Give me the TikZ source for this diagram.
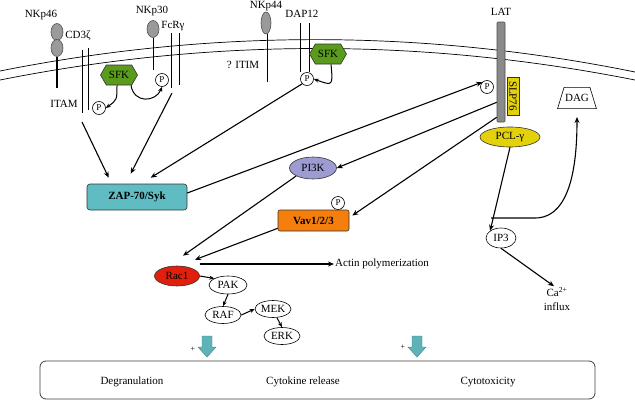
\documentclass[tikz,border=0pt]{standalone}
\usepackage{fontspec}
\setmainfont{Liberation Serif}
\usetikzlibrary{arrows.meta,shapes.geometric,shapes.symbols,calc}
\definecolor{recgrey}{HTML}{9A9A9A}
\definecolor{latgrey}{HTML}{8A8A8A}
\definecolor{sfkgreen}{HTML}{5A9B1E}
\definecolor{zapteal}{HTML}{5FBCC2}
\definecolor{lavender}{HTML}{9C9CD2}
\definecolor{vavorange}{HTML}{F57E0C}
\definecolor{racred}{HTML}{E0200C}
\definecolor{pclyellow}{HTML}{E3D10B}
\definecolor{tealarr}{HTML}{5EB3B8}
\begin{document}
\begin{tikzpicture}[x=1pt,y=-1pt,
  every node/.style={font=\fontsize{11}{12}\selectfont, inner sep=1pt},
  arr/.style={line width=1.1pt, -{Stealth[length=6pt,width=5pt]}},
  arrs/.style={line width=1pt, -{Stealth[length=5pt,width=4pt]}},
  memb/.style={line width=0.7pt},
  recline/.style={line width=0.7pt},
  pcirc/.style={circle, draw, line width=0.6pt, fill=white, minimum size=13pt, inner sep=0pt, font=\fontsize{9}{10}\selectfont},
  oval/.style={ellipse, draw, line width=0.6pt, fill=white, inner sep=0pt},
  greyoval/.style={ellipse, draw=black!70, line width=0.6pt, fill=recgrey, inner sep=0pt},
  sfkbox/.style={signal, signal to=west and east, signal pointer angle=120, draw=black!80, line width=0.6pt, fill=sfkgreen, minimum width=37pt, minimum height=20pt, inner sep=0pt},
  colbox/.style={draw=black!80, line width=0.6pt, inner sep=0pt},
  plus/.style={font=\fontsize{8}{9}\selectfont}
]
\useasboundingbox (0,0) rectangle (635,402);

% membrane
\draw[memb] (0,71) .. controls (211,29) and (423,29) .. (635,72);
\draw[memb] (0,80) .. controls (211,38) and (423,38) .. (635,80);

% NKp46
\node (nkp46) at (41,15) {NKp46};
\node[greyoval, minimum width=12pt, minimum height=17pt] (n46a) at (57,32) {};
\node[greyoval, minimum width=12pt, minimum height=17pt] (n46b) at (57,48) {};
\coordinate (n46end) at (57,88);
\draw[line width=2.2pt] (n46b.south) -- (n46end);

% CD3zeta
\node (cd3) at (78,36) {CD3ζ};
\coordinate (cd3a1) at (82,50); \coordinate (cd3a2) at (82,113);
\coordinate (cd3b1) at (88,48); \coordinate (cd3b2) at (88,110);
\draw[recline] (cd3a1) -- (cd3a2);
\draw[recline] (cd3b1) -- (cd3b2);
\node (itam) at (64,104) {ITAM};
\coordinate (cd3arr) at (82,122);

% SFK 1
\node[sfkbox] (sfk1) at (119,75) {SFK};
\node[pcirc] (p1) at (99,108) {P};

% NKp30
\node (nkp30) at (152,11) {NKp30};
\node[greyoval, minimum width=12pt, minimum height=17pt] (n30) at (153,29) {};
\coordinate (n30end) at (153,70);
\draw[recline] (n30.south) -- (n30end);
\node[pcirc] (p2) at (162,80) {P};

% FcRgamma
\node (fcr) at (173,26) {FcRγ};
\coordinate (fcra1) at (171,33); \coordinate (fcra2) at (171,88);
\coordinate (fcrb1) at (179,33); \coordinate (fcrb2) at (179,85);
\draw[recline] (fcra1) -- (fcra2);
\draw[recline] (fcrb1) -- (fcrb2);
\coordinate (fcrarr) at (172,93);

\draw[arrs] ([xshift=-2pt]sfk1.south) .. controls (117,100) .. (p1.east);
\draw[arrs] ([xshift=12pt]sfk1.south) .. controls (134,104) and (156,102) .. (p2.south);

% NKp44
\node (nkp44) at (266,6) {NKp44};
\node[greyoval, minimum width=10pt, minimum height=22pt] (n44) at (266,23) {};
\coordinate (n44end) at (267,82);
\draw[recline] ([xshift=1pt]n44.south) -- (n44end);
\node (itim) at (243,65) {? ITIM};

% DAP12
\node (dap12) at (302,14) {DAP12};
\coordinate (dapa1) at (300,23); \coordinate (dapa2) at (300,72);
\coordinate (dapb1) at (309,23); \coordinate (dapb2) at (309,72);
\draw[recline] (dapa1) -- (dapa2);
\draw[recline] (dapb1) -- (dapb2);
\node[pcirc] (p3) at (307,79) {P};
\node[sfkbox] (sfk2) at (328,54) {SFK};
\draw[arrs] ([xshift=3pt]sfk2.south) .. controls (333,86) .. (p3.east);

% LAT
\node (latl) at (501,12) {LAT};
\node[draw=black!70, line width=0.6pt, fill=latgrey, rounded corners=1pt, minimum width=8pt, minimum height=100pt, inner sep=0pt] (lat) at (501,72) {};
\node[pcirc] (p4) at (487,87) {P};
\node[colbox, fill=pclyellow, rotate=-90, minimum width=38pt, minimum height=12pt] (slp) at (513,96) {SLP76};
\node[ellipse, colbox, fill=pclyellow, minimum width=60pt, minimum height=20pt] (pcl) at (510,137) {PCL-γ};
\node[trapezium, trapezium left angle=73, trapezium right angle=73, draw, line width=0.6pt, inner xsep=1pt, inner ysep=7pt] (dag) at (577,98) {DAG};

% ZAP-70
\node[colbox, fill=zapteal, rounded corners=3pt, minimum width=100pt, minimum height=26pt, font=\fontsize{11}{12}\selectfont\bfseries] (zap) at (137,197) {ZAP-70/Syk};

% PI3K, Vav
\node[ellipse, colbox, fill=lavender, minimum width=47pt, minimum height=22pt] (pi3k) at (313,168) {PI3K};
\node[colbox, fill=vavorange, rounded corners=2pt, minimum width=71pt, minimum height=21pt, font=\fontsize{11}{12}\selectfont\bfseries] (vav) at (313.5,220.5) {Vav1/2/3};
\node[pcirc] (p5) at (338,203) {P};

% Rac1 and MAPK
\node[ellipse, colbox, fill=racred, minimum width=45pt, minimum height=20pt] (rac) at (177,276) {Rac1};
\node[anchor=west] (actin) at (334,264) {Actin polymerization};
\node[oval, minimum width=38pt, minimum height=18pt] (pak) at (228,285) {PAK};
\node[oval, minimum width=36pt, minimum height=17pt] (raf) at (223,315) {RAF};
\node[oval, minimum width=36pt, minimum height=17pt] (mek) at (273,309) {MEK};
\node[oval, minimum width=36pt, minimum height=17pt] (erk) at (282,336) {ERK};

% IP3, Ca
\node[oval, minimum width=30pt, minimum height=20pt] (ip3) at (501,238) {IP3};
\node[align=center, font=\fontsize{11}{14}\selectfont] (ca) at (557,299) {Ca\textsuperscript{2+}\\influx};

% arrows
\draw[arr] (cd3arr) -- ([xshift=22pt,yshift=6pt]zap.north west);
\draw[arr] (fcrarr) -- ([xshift=44pt,yshift=10pt]zap.north west);
\draw[arr] (p3.south west) -- ([xshift=64pt,yshift=6pt]zap.north west);
\draw[arr] ([yshift=4pt]zap.east) -- (p4.north west);
\draw[arr] ([yshift=20pt]lat.south west) -- (pi3k.east);
\draw[arr] ([yshift=5pt]lat.south west) -- ([xshift=3pt,yshift=5pt]vav.east);
\draw[arr] (pi3k.south west) -- ([xshift=6pt,yshift=10pt]rac.north);
\draw[arr] ([yshift=3pt]vav.south west) -- ([xshift=18pt,yshift=6pt]rac.north);
\draw[arr] ([xshift=23pt,yshift=12pt]rac.center) -- (actin.west);
\draw[arrs] (rac.east) -- (pak.north west);
\draw[arrs] (pak.south) -- (raf.north);
\draw[arrs] (raf.east) -- (mek.west);
\draw[arrs] ([xshift=4pt]mek.south) -- (erk.north);
\draw[arr] (pcl.south) -- (ip3.north west);
\coordinate (dagstart) at (491,218);
\coordinate (dagbend) at (535,218);
\draw[arr] (dagstart) -- (dagbend) .. controls (572,218) and (577,160) .. ([yshift=-8pt]dag.south);
\draw[arr] (ip3.south) -- ([xshift=-3pt]ca.north);

% teal block arrows
\foreach \x in {207,417} {
  \draw[fill=tealarr, draw=tealarr!70!black, line width=0.4pt]
    (\x-5,336) -- (\x+5,336) -- (\x+5,347) -- (\x+9,347) -- (\x,357) -- (\x-9,347) -- (\x-5,347) -- cycle;
}
\node[plus] (plusa) at (193,349) {+};
\node[plus] (plusb) at (403,347) {+};

% outcome box
\node[draw=black!75, line width=0.8pt, rounded corners=6pt, minimum width=555pt, minimum height=38pt] (outc) at (317.5,380) {};
\node (degr) at (132,382) {Degranulation};
\node (cytrel) at (303,382) {Cytokine release};
\node (ctx) at (488,382) {Cytotoxicity};
\end{tikzpicture}
\end{document}
